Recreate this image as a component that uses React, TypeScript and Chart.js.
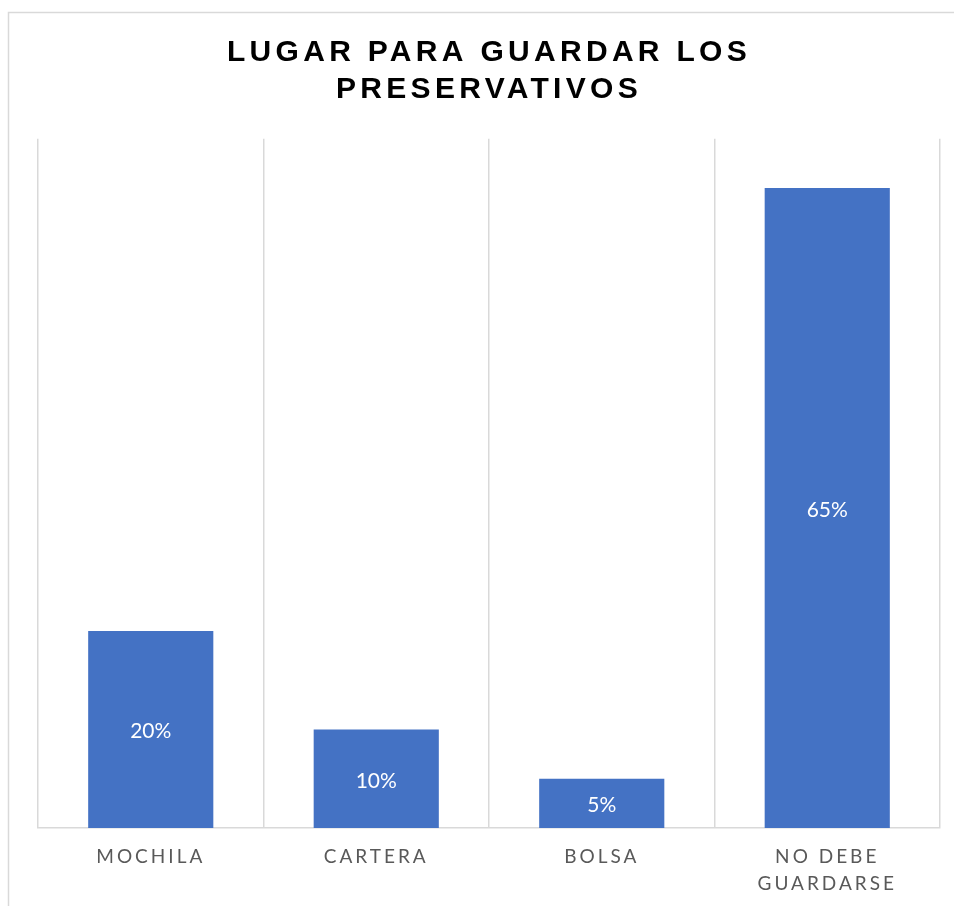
import React, { useEffect, useRef } from "react";
import { Chart, registerables } from "chart.js";

Chart.register(...registerables);

const titleLines = ["LUGAR PARA GUARDAR LOS", "PRESERVATIVOS"];
const categories: (string | string[])[] = ["MOCHILA", "CARTERA", "BOLSA", ["NO DEBE", "GUARDARSE"]];
const values = [20, 10, 5, 65];
const yMax = 70;

const BAR_COLOR = "#4472C4";
const GRID_COLOR = "#d9d9d9";

const framePlugin = {
  id: "frameAndSpacing",
  beforeDraw(chart: any) {
    const ctx = chart.ctx;
    ctx.save();
    ctx.strokeStyle = GRID_COLOR;
    ctx.lineWidth = 1.5;
    ctx.strokeRect(8.5, 12.5, 3000, 3000);
    ctx.restore();
    ctx.letterSpacing = "3px";
  },
  afterLayout(chart: any) {
    const tb = chart.titleBlock;
    if (tb && !tb.__wrapped) {
      const orig = tb.draw.bind(tb);
      tb.draw = function () {
        const c = this.ctx;
        c.save();
        c.letterSpacing = "4.3px";
        orig();
        c.restore();
      };
      tb.__wrapped = true;
    }
  },
  afterDraw(chart: any) {
    chart.ctx.letterSpacing = "0px";
  },
};

const valueLabelPlugin = {
  id: "valueLabels",
  afterDatasetsDraw(chart: any) {
    const ctx = chart.ctx;
    const meta = chart.getDatasetMeta(0);
    ctx.save();
    ctx.letterSpacing = "0px";
    ctx.font = "21px Lato, 'Noto Sans', sans-serif";
    ctx.fillStyle = "#ffffff";
    ctx.textAlign = "center";
    ctx.textBaseline = "middle";
    meta.data.forEach((el: any, i: number) => {
      const y = (el.y + el.base) / 2 + 2;
      ctx.fillText(`${values[i]}%`, el.x, y);
    });
    ctx.restore();
  },
};

export default function App() {
  const canvasRef = useRef<HTMLCanvasElement | null>(null);

  useEffect(() => {
    if (!canvasRef.current) return;
    const chart = new Chart(canvasRef.current, {
      type: "bar",
      data: {
        labels: categories,
        datasets: [
          {
            data: values,
            backgroundColor: BAR_COLOR,
            borderWidth: 0,
            barPercentage: 0.555,
            categoryPercentage: 1,
          },
        ],
      },
      options: {
        animation: false,
        responsive: true,
        maintainAspectRatio: false,
        layout: { padding: { left: 38, right: 14, top: 34, bottom: 0 } },
        plugins: {
          legend: { display: false },
          tooltip: { enabled: false },
          title: {
            display: true,
            text: titleLines,
            color: "#000000",
            font: { family: "'Liberation Sans', Arial, sans-serif", size: 30, weight: "bold", lineHeight: 1.23 },
            padding: { top: 0, bottom: 31 },
          },
        },
        scales: {
          x: {
            grid: { color: GRID_COLOR, lineWidth: 1.5, drawTicks: false, offset: true },
            border: { color: GRID_COLOR, width: 1.5 },
            ticks: {
              color: "#595959",
              padding: 16,
              maxRotation: 0,
              autoSkip: false,
              font: { family: "Lato, 'Noto Sans', sans-serif", size: 19, lineHeight: 1.4 },
            },
            afterFit(scale: any) {
              scale.height = 78;
            },
          },
          y: {
            display: false,
            min: 0,
            max: yMax,
          },
        },
      },
      plugins: [framePlugin, valueLabelPlugin],
    });
    return () => chart.destroy();
  }, []);

  return (
    <div style={{ position: "absolute", left: 0, top: 0, width: 954, height: 906, background: "#fff" }}>
      <canvas ref={canvasRef} />
    </div>
  );
}
